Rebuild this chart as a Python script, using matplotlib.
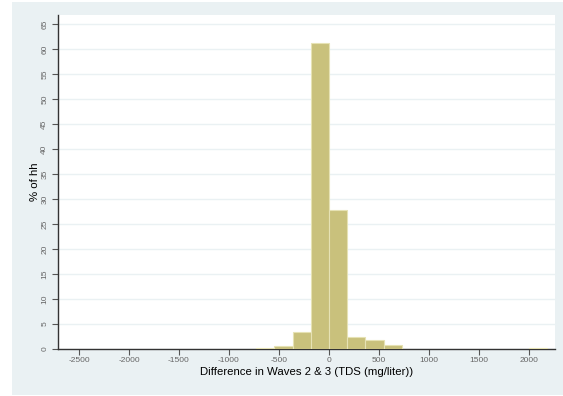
import matplotlib.pyplot as plt
from matplotlib.patches import Rectangle

plt.rcParams['font.family'] = ['Liberation Sans', 'DejaVu Sans']

# histogram bins (width in mg/liter) and percent of households per bin
bin_width = 182
bin_start = [-4, -3, -2, -1, 0, 1, 2, 3, 11]   # bin index, left edge = index * width
pct_hh = [0.2, 0.6, 3.4, 61.3, 27.9, 2.5, 1.8, 0.8, 0.15]

x_ticks = [-2500, -2000, -1500, -1000, -500, 0, 500, 1000, 1500, 2000]
y_ticks = list(range(0, 70, 5))

fig = plt.figure(figsize=(5.63, 3.96), dpi=100, facecolor="white")
fig.patches.append(Rectangle((12 / 563, 1 - 395 / 396), 1, 393 / 396,
                             transform=fig.transFigure, facecolor="#eaf1f3",
                             edgecolor="none", zorder=-10))

ax = fig.add_axes([58 / 563, 1 - 349 / 396, (555 - 58) / 563, (349 - 15) / 396])
ax.set_facecolor("white")

lefts = [k * bin_width for k in bin_start]
ax.bar(lefts, pct_hh, width=bin_width, align="edge", color="#c9c17c",
       edgecolor="#e6e2b4", linewidth=0.8, zorder=3)

ax.set_xlim(-2710, 2260)
ax.set_ylim(0, 66.8)
ax.set_xticks(x_ticks)
ax.set_yticks(y_ticks)
ax.set_xticklabels([str(t) for t in x_ticks], fontsize=6, color="#666666")
ax.set_yticklabels([str(t) for t in y_ticks], fontsize=6, color="#666666",
                   rotation=90, va="center")
ax.tick_params(axis="both", direction="out", length=4, width=0.8, color="#555555")
ax.tick_params(axis="x", pad=2)
ax.tick_params(axis="y", pad=3)

ax.grid(axis="y", color="#eaf1f3", linewidth=1.0, zorder=0)
for side in ["top", "right"]:
    ax.spines[side].set_visible(False)
for side in ["left", "bottom"]:
    ax.spines[side].set_color("#333333")
    ax.spines[side].set_linewidth(1.0)

ax.set_xlabel("Difference in Waves 2 & 3 (TDS (mg/liter))", fontsize=8.2, labelpad=2)
ax.set_ylabel("% of hh", fontsize=8.2, labelpad=1)

plt.savefig("out.png", dpi=100, facecolor=fig.get_facecolor())
